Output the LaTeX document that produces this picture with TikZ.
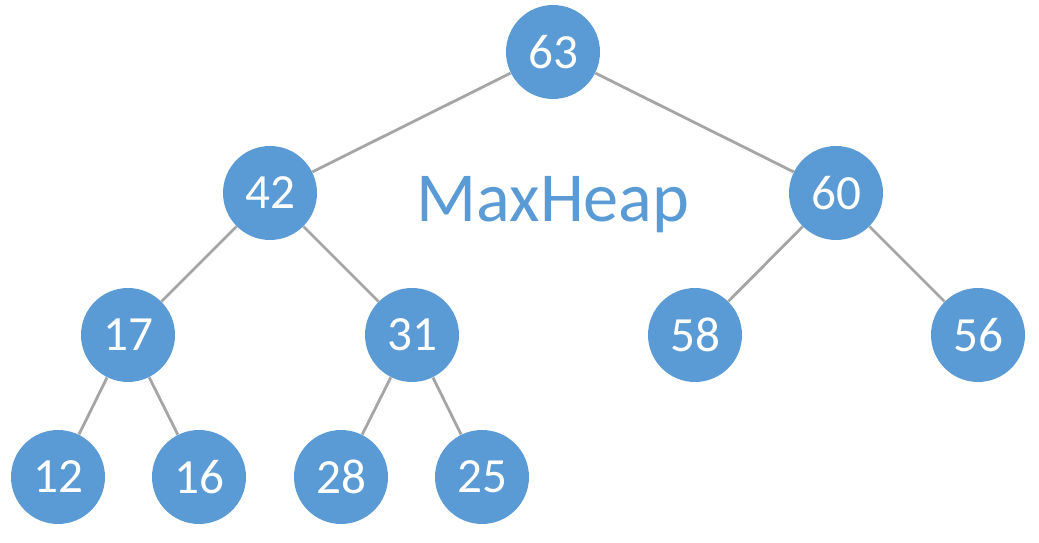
\documentclass[tikz,border=0pt]{standalone}
\usepackage{fontspec}
\setmainfont{Carlito}
\usepackage{xcolor}
\usepackage{tikz}
\usetikzlibrary{positioning}
\definecolor{heapblue}{HTML}{5B9BD5}
\definecolor{edgegray}{HTML}{A5A5A5}

\begin{document}
\begin{tikzpicture}[
  x=0.02cm, y=-0.02cm,
  hn/.style={circle, fill=heapblue, text=white, inner sep=0pt,
             minimum size=1.88cm, font=\fontsize{28}{30}\selectfont},
  ed/.style={draw=edgegray, line width=1.6pt}
]
\useasboundingbox (0,0) rectangle (1039,543);
% root and level 1
\node[hn] (n63) at (553,52)  {63};
\node[hn] (n42) at (270,193) {42};
\node[hn] (n60) at (836,193) {60};
% level 2
\node[hn] (n17) at (128,335) {17};
\node[hn] (n31) at (412,335) {31};
\node[hn] (n58) at (695,335) {58};
\node[hn] (n56) at (978,335) {56};
% level 3
\node[hn] (n12) at (58,477)  {12};
\node[hn] (n16) at (199,477) {16};
\node[hn] (n28) at (341,477) {28};
\node[hn] (n25) at (482,477) {25};
% title
\node[text=heapblue, font=\fontsize{40}{44}\selectfont] (title) at (553,205) {MaxHeap};
% edges
\draw[ed] (n63) -- (n42);
\draw[ed] (n63) -- (n60);
\draw[ed] (n42) -- (n17);
\draw[ed] (n42) -- (n31);
\draw[ed] (n60) -- (n58);
\draw[ed] (n60) -- (n56);
\draw[ed] (n17) -- (n12);
\draw[ed] (n17) -- (n16);
\draw[ed] (n31) -- (n28);
\draw[ed] (n31) -- (n25);
\end{tikzpicture}
\end{document}
